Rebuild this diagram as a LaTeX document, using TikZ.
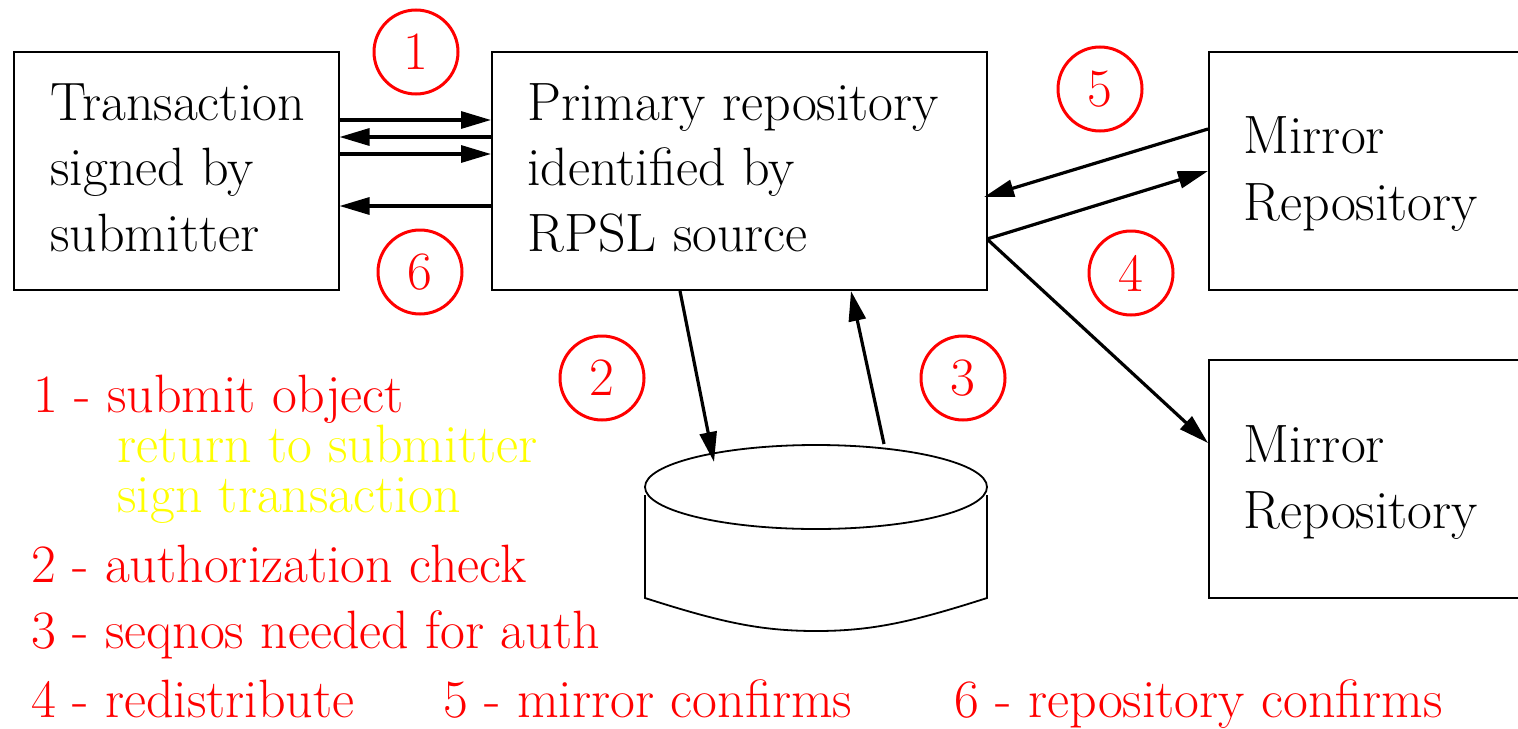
\documentclass[tikz,border=0pt]{standalone}
\usetikzlibrary{arrows.meta,calc}

\definecolor{legred}{RGB}{255,0,0}
\definecolor{legyellow}{RGB}{255,255,0}

\tikzset{
  box/.style={draw=black, line width=1pt, inner sep=0pt, fill=none},
  txt/.style={anchor=base west, inner sep=0pt, font=\rmfamily\fontsize{27}{32}\selectfont},
  legend/.style={txt, text=legred},
  legendsub/.style={txt, text=legyellow},
  stepnum/.style={circle, draw=legred, line width=1.5pt, minimum size=42pt,
                  inner sep=0pt, text=legred, font=\rmfamily\fontsize{27}{32}\selectfont},
  flow/.style={line width=1.6pt, -{Triangle[length=15pt 0 0,width=8.5pt 0 0]}},
  disk/.style={line width=0.9pt},
}

\begin{document}
\begin{tikzpicture}[x=0.5pt, y=-0.5pt]
\useasboundingbox (0,0) rectangle (1518,728);

% boxes
\node[box, minimum width=162.5pt, minimum height=119pt] (trans) at (176,171) {};
\node[box, minimum width=247.5pt, minimum height=119pt] (prim) at (739.5,171) {};
\node[box, minimum width=158pt, minimum height=119pt] (mirA) at (1367,171) {};
\node[box, minimum width=158pt, minimum height=119pt] (mirB) at (1367,478.5) {};

% box texts
\node[txt] at (50,120) {Transaction};
\node[txt] at (50,185) {signed by};
\node[txt] at (50,251) {submitter};
\node[txt] at (527,120) {Primary repository};
\node[txt] at (527,185) {identified by};
\node[txt] at (527,251) {RPSL source};
\node[txt] at (1243,153) {Mirror};
\node[txt] at (1243,220) {Repository};
\node[txt] at (1243,462) {Mirror};
\node[txt] at (1243,528) {Repository};

% database cylinder
\draw[disk] (816,487) ellipse [x radius=171, y radius=42];
\draw[disk] (645,495) -- (645,598)
  .. controls (720,622) and (760,631) .. (816,631)
  .. controls (872,631) and (912,622) .. (987,598) -- (987,495);
\coordinate (dbin) at (714,462);
\coordinate (dbout) at (884,444);

% transaction <-> primary
\draw[flow] (trans.east |- 0,120) -- (prim.west |- 0,120);
\draw[flow] (prim.west |- 0,137) -- (trans.east |- 0,137);
\draw[flow] (trans.east |- 0,154) -- (prim.west |- 0,154);
\draw[flow] (prim.west |- 0,206) -- (trans.east |- 0,206);

% primary <-> database
\draw[flow] (prim.south -| 680,0) -- (dbin);
\draw[flow] (dbout) -- (prim.south -| 851,0);

% primary <-> mirrors
\coordinate (pout) at (987,239);
\draw[flow] (mirA.west |- 0,129) -- (984,197);
\draw[flow] (pout) -- (mirA.west |- 0,171);
\draw[flow] (pout) -- (mirB.west |- 0,443);

% step markers
\node[stepnum] (s1) at (416,52) {1};
\node[stepnum] (s2) at (602,378) {2};
\node[stepnum] (s3) at (963,378) {3};
\node[stepnum] (s4) at (1131,273) {4};
\node[stepnum] (s5) at (1100,89) {5};
\node[stepnum] (s6) at (420,272) {6};

% legend
\node[legend] at (33,412) {1 - submit object};
\node[legendsub] at (117,462) {return to submitter};
\node[legendsub] at (117,512) {sign transaction};
\node[legend] at (31,582) {2 - authorization check};
\node[legend] at (31,648) {3 - seqnos needed for auth};
\node[legend] at (31,717) {4 - redistribute};
\node[legend] at (443,717) {5 - mirror confirms};
\node[legend] at (954,717) {6 - repository confirms};
\end{tikzpicture}
\end{document}
